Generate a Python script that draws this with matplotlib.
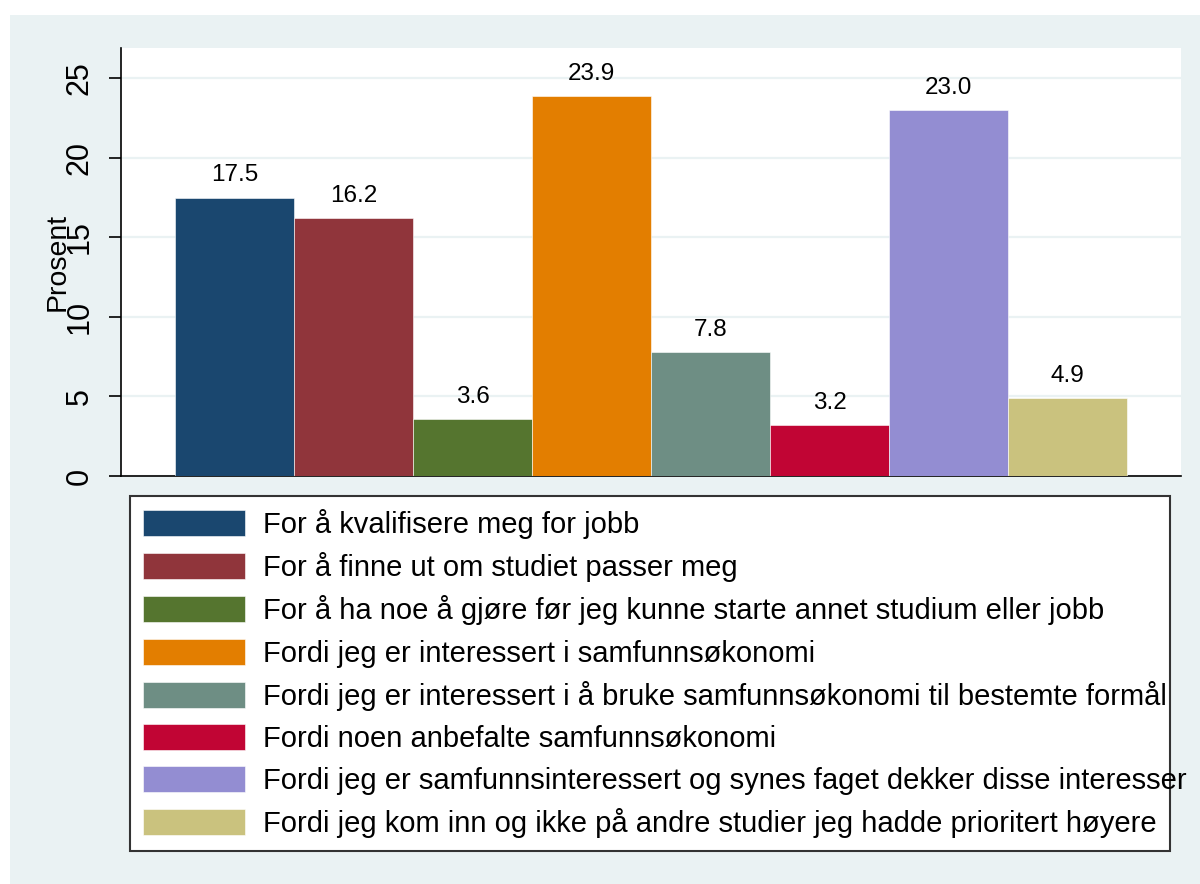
import matplotlib.pyplot as plt
from matplotlib.patches import Rectangle

plt.rcParams['font.family'] = ['Liberation Sans', 'DejaVu Sans']

# data
labels = [
    "For å kvalifisere meg for jobb",
    "For å finne ut om studiet passer meg",
    "For å ha noe å gjøre før jeg kunne starte annet studium eller jobb",
    "Fordi jeg er interessert i samfunnsøkonomi",
    "Fordi jeg er interessert i å bruke samfunnsøkonomi til bestemte formål",
    "Fordi noen anbefalte samfunnsøkonomi",
    "Fordi jeg er samfunnsinteressert og synes faget dekker disse interesser",
    "Fordi jeg kom inn og ikke på andre studier jeg hadde prioritert høyere",
]
values = [17.5, 16.2, 3.6, 23.9, 7.8, 3.2, 23.0, 4.9]
colors = ['#1A476F', '#90353B', '#55752F', '#E37E00',
          '#6E8E84', '#C10534', '#938DD2', '#CAC27E']
yticks = [0, 5, 10, 15, 20, 25]

bg = '#EAF2F3'

fig = plt.figure(figsize=(12, 8.84), dpi=100, facecolor='white')
# stata style outer region
fig.patches.append(Rectangle((10 / 1200, 0), 1, 1 - 15 / 884,
                             transform=fig.transFigure, facecolor=bg,
                             edgecolor='none', zorder=-5))

ax = fig.add_axes([121 / 1200, 1 - 476 / 884, 1060 / 1200, 428 / 884])
ax.set_facecolor('white')

x = list(range(len(values)))
for i, v in enumerate(values):
    b = ax.bar(x[i], v, width=1.0, color=colors[i], edgecolor='white',
               linewidth=0.4, label=labels[i], zorder=3)
    ax.bar_label(b, labels=[f"{v:.1f}"], padding=8, fontsize=17.5, zorder=4)

ax.set_xlim(-0.954, 7.954)
ax.set_ylim(0, 26.9)
ax.set_yticks(yticks)
ax.set_xticks([])
ax.grid(axis='y', color=bg, linewidth=1.6, zorder=1)
for s in ['top', 'right']:
    ax.spines[s].set_visible(False)
ax.spines['left'].set_linewidth(1.2)
ax.spines['bottom'].set_linewidth(1.2)
ax.tick_params(axis='y', length=9, width=1.2, labelsize=22, pad=10,
               labelrotation=90)
for t in ax.get_yticklabels():
    t.set_va('center')

fig.text(58 / 1200, 1 - 262 / 884, 'Prosent', rotation=90, ha='center',
         va='center', fontsize=20.5)

leg = fig.legend(loc='upper left',
                 bbox_to_anchor=(130 / 1200, 1 - 850 / 884, 1040 / 1200, 354 / 884),
                 mode='expand', borderaxespad=0, fontsize=21,
                 handlelength=3.5, handleheight=1.0, handletextpad=0.6,
                 labelspacing=0.45, borderpad=0.45, fancybox=False,
                 edgecolor='#333333', framealpha=1)
leg.get_frame().set_linewidth(1.5)

fig.savefig('out.png', dpi=100, facecolor='white')
